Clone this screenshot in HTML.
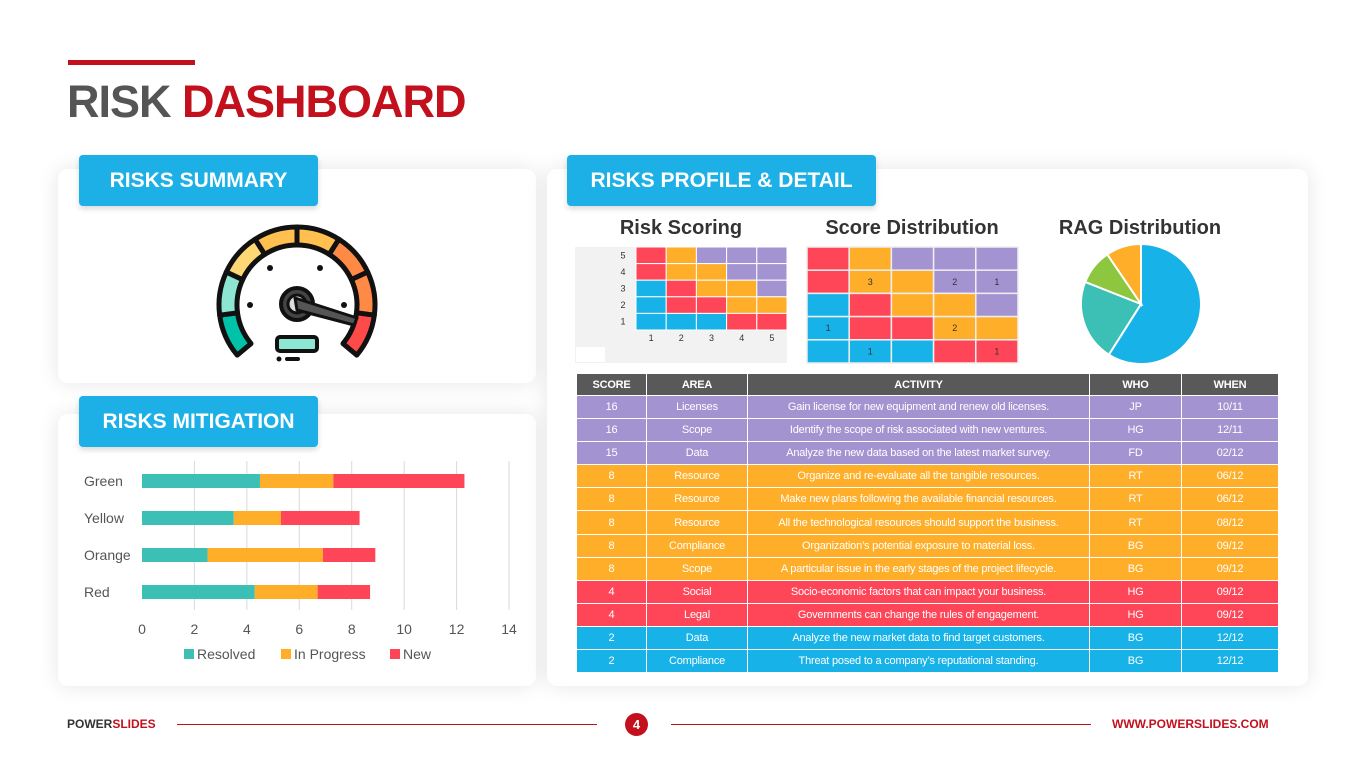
<!DOCTYPE html>
<html><head><meta charset="utf-8">
<style>
*{margin:0;padding:0;box-sizing:border-box}
body{width:1365px;height:767px;background:#fff;font-family:"Liberation Sans",sans-serif;position:relative;overflow:hidden}
.abs{position:absolute}
.panel{position:absolute;background:#fff;border-radius:10px;box-shadow:0 0 22px rgba(0,0,0,0.10)}
.tag{position:absolute;background:#1cb0e6;color:#fff;font-weight:bold;font-size:21px;border-radius:4px;display:flex;align-items:center;justify-content:center;box-shadow:0 3px 6px rgba(0,0,0,0.15)}
.sub{position:absolute;font-size:20px;font-weight:bold;color:#333;text-align:center}
table{border-collapse:collapse;position:absolute;left:576px;top:373px;width:702px;font-size:11px;color:#fff;table-layout:fixed}
td,th{border:1px solid #fff;text-align:center;height:23.1px;padding:0;white-space:nowrap;overflow:hidden;letter-spacing:-0.2px}
th{background:#595959;height:22px;font-size:11px}
.p td{background:#a393d0}.o td{background:#feae29}.r td{background:#fe4658}.b td{background:#17b2e8}
</style></head><body>
<div class="abs" style="left:68px;top:60px;width:127px;height:5px;background:#c3101d"></div>
<div class="abs" style="left:67px;top:76px;font-size:45px;font-weight:bold;letter-spacing:-1px"><span style="color:#555">RISK </span><span style="color:#c3101d">DASHBOARD</span></div>

<div class="panel" style="left:58px;top:169px;width:478px;height:214px"></div>
<div class="panel" style="left:58px;top:414px;width:478px;height:272px"></div>
<div class="panel" style="left:547px;top:169px;width:761px;height:517px"></div>

<div class="tag" style="left:79px;top:155px;width:239px;height:51px">RISKS SUMMARY</div>
<div class="tag" style="left:79px;top:396px;width:239px;height:51px">RISKS MITIGATION</div>
<div class="tag" style="left:567px;top:155px;width:309px;height:51px">RISKS PROFILE &amp; DETAIL</div>

<svg class="abs" style="left:0;top:0" width="600" height="400" id="gauge"></svg>

<div class="sub" style="left:575px;top:217px;width:212px">Risk Scoring</div>
<div class="sub" style="left:806px;top:217px;width:212px">Score Distribution</div>
<div class="sub" style="left:1040px;top:217px;width:200px">RAG Distribution</div>

<svg class="abs" id="heat" style="left:0;top:0" width="1365" height="767"></svg>
<svg class="abs" id="pie" style="left:0;top:0" width="1365" height="767"></svg>
<svg class="abs" id="bars" style="left:0;top:0" width="600" height="767"></svg>

<table>
<colgroup><col style="width:70px"><col style="width:101px"><col style="width:342px"><col style="width:92px"><col style="width:97px"></colgroup>
<tr><th>SCORE</th><th>AREA</th><th>ACTIVITY</th><th>WHO</th><th>WHEN</th></tr>
<tr class="p"><td>16</td><td>Licenses</td><td>Gain license for new equipment and renew old licenses.</td><td>JP</td><td>10/11</td></tr>
<tr class="p"><td>16</td><td>Scope</td><td>Identify the scope of risk associated with new ventures.</td><td>HG</td><td>12/11</td></tr>
<tr class="p"><td>15</td><td>Data</td><td>Analyze the new data based on the latest market survey.</td><td>FD</td><td>02/12</td></tr>
<tr class="o"><td>8</td><td>Resource</td><td>Organize and re-evaluate all the tangible resources.</td><td>RT</td><td>06/12</td></tr>
<tr class="o"><td>8</td><td>Resource</td><td>Make new plans following the available financial resources.</td><td>RT</td><td>06/12</td></tr>
<tr class="o"><td>8</td><td>Resource</td><td>All the technological resources should support the business.</td><td>RT</td><td>08/12</td></tr>
<tr class="o"><td>8</td><td>Compliance</td><td>Organization’s potential exposure to material loss.</td><td>BG</td><td>09/12</td></tr>
<tr class="o"><td>8</td><td>Scope</td><td>A particular issue in the early stages of the project lifecycle.</td><td>BG</td><td>09/12</td></tr>
<tr class="r"><td>4</td><td>Social</td><td>Socio-economic factors that can impact your business.</td><td>HG</td><td>09/12</td></tr>
<tr class="r"><td>4</td><td>Legal</td><td>Governments can change the rules of engagement.</td><td>HG</td><td>09/12</td></tr>
<tr class="b"><td>2</td><td>Data</td><td>Analyze the new market data to find target customers.</td><td>BG</td><td>12/12</td></tr>
<tr class="b"><td>2</td><td>Compliance</td><td>Threat posed to a company’s reputational standing.</td><td>BG</td><td>12/12</td></tr>
</table>

<div class="abs" style="left:67px;top:717px;font-size:12px;font-weight:bold;color:#333">POWER<span style="color:#c3101d">SLIDES</span></div>
<div class="abs" style="left:177px;top:724px;width:420px;height:1px;background:#c3101d"></div>
<div class="abs" style="left:671px;top:724px;width:420px;height:1px;background:#c3101d"></div>
<div class="abs" style="left:625px;top:713px;width:23px;height:23px;border-radius:50%;background:#c3101d;color:#fff;font-size:13px;font-weight:bold;display:flex;align-items:center;justify-content:center">4</div>
<div class="abs" style="left:1112px;top:717px;font-size:12px;font-weight:bold;color:#c3101d">WWW.POWERSLIDES.COM</div>

<script>
const NS="http://www.w3.org/2000/svg";
function mk(p,t,a){const e=document.createElementNS(NS,t);for(const k in a)e.setAttribute(k,a[k]);p.appendChild(e);return e;}

// Gauge
const g=document.getElementById('gauge');
const gCols=["#00c2a8","#8de6d2","#ffd875","#ffc050","#ffc050","#ff8a45","#ff8a45","#ff4a4a"];
const cx=297,cy=305,R1=78,R0=60,a0=220,a1=-40;
function pt(r,a){const t=a*Math.PI/180;return [cx+r*Math.cos(t),cy-r*Math.sin(t)];}
const n=gCols.length,step=(a0-a1)/n;
for(let i=0;i<n;i++){
 const s=a0-i*step,e=s-step;
 const p1=pt(R1,s),p2=pt(R1,e),p3=pt(R0,e),p4=pt(R0,s);
 const el=mk(g,'path',{d:`M${p1} A${R1} ${R1} 0 0 1 ${p2} L${p3} A${R0} ${R0} 0 0 0 ${p4} Z`,fill:gCols[i],stroke:"#111","stroke-width":5,"stroke-linejoin":"round"});
 
 
}
[[250,305],[344,305],[270,268],[320,268]].forEach(p=>mk(g,'circle',{cx:p[0],cy:p[1],r:3,fill:"#111"}));
mk(g,'circle',{cx:297,cy:304,r:16,fill:"#444",stroke:"#111","stroke-width":4});
mk(g,'circle',{cx:297,cy:304,r:9,fill:"#ddd",stroke:"#111","stroke-width":3});
mk(g,'polygon',{points:"295,298 357,318 354,325 297,310",fill:"#555",stroke:"#111","stroke-width":3,"stroke-linejoin":"round"});
mk(g,'rect',{x:277,y:337,width:40,height:14,rx:3,fill:"#8de6d2",stroke:"#111","stroke-width":4});
mk(g,'rect',{x:285,y:357,width:15,height:4,rx:2,fill:"#111"});
mk(g,'circle',{cx:279,cy:359,r:2.5,fill:"#111"});

// Heatmaps
const scoringColors=[
 ["r","o","p","p","p"],
 ["r","o","o","p","p"],
 ["b","r","o","o","p"],
 ["b","r","r","o","o"],
 ["b","b","b","r","r"]];
const distColors=[
 ["r","o","p","p","p"],
 ["r","o","o","p","p"],
 ["b","r","o","o","p"],
 ["b","r","r","o","o"],
 ["b","b","b","r","r"]];
const distLabels=[
 ["","","","",""],
 ["","3","","2","1"],
 ["","","","",""],
 ["1","","","2",""],
 ["","1","","","1"]];
const axisTicks=["1","2","3","4","5"];
const cmap={r:"#fe4658",o:"#feae29",p:"#a393d0",b:"#17b2e8"};
const h=document.getElementById('heat');
mk(h,'rect',{x:575,y:247,width:212,height:116,fill:"#f2f2f2"});
mk(h,'rect',{x:576,y:347,width:29,height:15,fill:"#fff"});
const sx=636,sy=247,sw=30.2,sh=16.6;
scoringColors.forEach((row,r)=>row.forEach((c,k)=>{
 const el=mk(h,'rect',{x:sx+k*sw,y:sy+r*sh,width:sw,height:sh,fill:cmap[c],stroke:"#fff","stroke-width":1});
 
 
}));
axisTicks.forEach((t,i)=>{
 mk(h,'text',{x:sx+i*sw+sw/2,y:341,"font-size":9,"text-anchor":"middle",fill:"#333"}).textContent=t;
 mk(h,'text',{x:623,y:sy+(4-i)*sh+sh/2+3,"font-size":9,"text-anchor":"middle",fill:"#333"}).textContent=t;
});
const dx=807,dy=247,dw=42.2,dh=23.2;
distColors.forEach((row,r)=>row.forEach((c,k)=>{
 const el=mk(h,'rect',{x:dx+k*dw,y:dy+r*dh,width:dw,height:dh,fill:cmap[c],stroke:"#eee","stroke-width":1.5});
 
 
 if(distLabels[r][k])mk(h,'text',{x:dx+k*dw+dw/2,y:dy+r*dh+dh/2+3,"font-size":9,"text-anchor":"middle",fill:"#333"}).textContent=distLabels[r][k];
}));

// Pie
const pieLabels=["Blue","Teal","Green","Orange"];
const pieValues=[59,22,9.5,9.5];
const pieColors=["#17b2e8","#3cbfb4","#8dc63f","#feae29"];
const pc=[1141,304],pr=60;
const pv=document.getElementById('pie');
const tot=pieValues.reduce((a,b)=>a+b,0);
let acc=0;
pieValues.forEach((v,i)=>{
 const s=acc/tot*2*Math.PI;acc+=v;const e=acc/tot*2*Math.PI;
 const p1=[pc[0]+pr*Math.sin(s),pc[1]-pr*Math.cos(s)],p2=[pc[0]+pr*Math.sin(e),pc[1]-pr*Math.cos(e)];
 const el=mk(pv,'path',{d:`M${pc} L${p1} A${pr} ${pr} 0 ${e-s>Math.PI?1:0} 1 ${p2} Z`,fill:pieColors[i],stroke:"#fff","stroke-width":2});
 
 
});

// Bars
const categories=["Green","Yellow","Orange","Red"];
const resolved=[4.5,3.5,2.5,4.3];
const inProgress=[2.8,1.8,4.4,2.4];
const newer=[5,3,2,2];
const xTicks=[0,2,4,6,8,10,12,14];
const seriesNames=["Resolved","In Progress","New"];
const seriesColors=["#3cbfb4","#feae29","#fe4658"];
const b=document.getElementById('bars');
const X=v=>142+v*(367/14);
const Y=i=>481+i*37;
xTicks.forEach(t=>{
 if(t>0)mk(b,'line',{x1:X(t),x2:X(t),y1:461,y2:610,stroke:"#d9d9d9","stroke-width":1});
 mk(b,'text',{x:X(t),y:634,"font-size":14,"text-anchor":"middle",fill:"#555"}).textContent=t;
});
categories.forEach((c,i)=>{
 mk(b,'text',{x:84,y:Y(i)+5,"font-size":14,fill:"#555"}).textContent=c;
 let st=0;
 [resolved[i],inProgress[i],newer[i]].forEach((v,k)=>{
  const el=mk(b,'rect',{x:X(st),y:Y(i)-7,width:X(st+v)-X(st),height:14,fill:seriesColors[k]});
  
  
  st+=v;
 });
});
const lx=[184,281,390];
seriesNames.forEach((s,k)=>{
 mk(b,'rect',{x:lx[k],y:649,width:10,height:10,fill:seriesColors[k]});
 mk(b,'text',{x:lx[k]+13,y:659,"font-size":14,fill:"#555"}).textContent=s;
});
</script>
</body></html>
